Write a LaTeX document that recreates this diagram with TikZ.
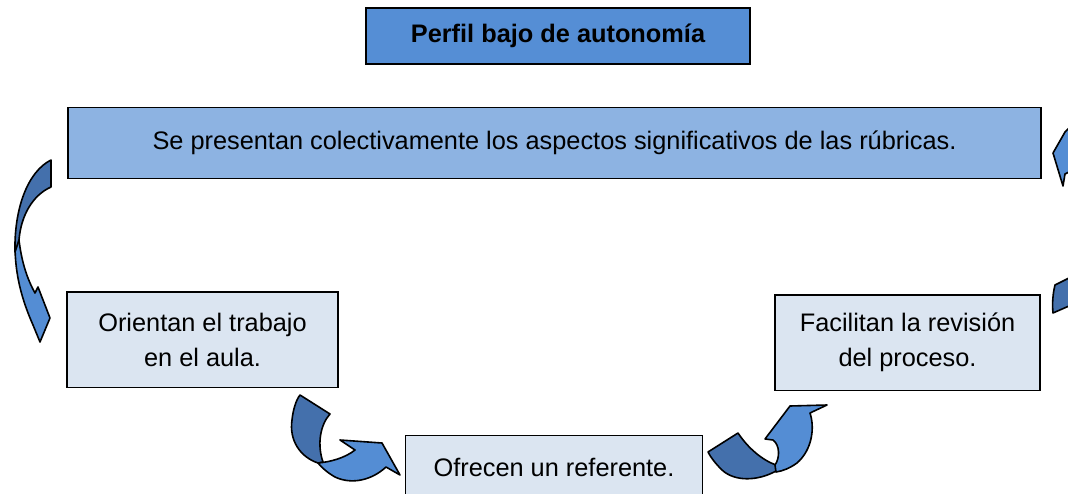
\documentclass[tikz,border=0pt]{standalone}
\usepackage{fontspec}
\setmainfont{Liberation Sans}
\usepackage{xcolor}
\usepackage{tikz}
\definecolor{headblue}{HTML}{558ED5}
\definecolor{barblue}{HTML}{8DB3E2}
\definecolor{cardblue}{HTML}{DBE5F1}
\definecolor{folddark}{HTML}{4470AC}
\definecolor{foldlight}{HTML}{548DD4}
\newcommand{\boxfont}{\fontsize{19}{26.2}\selectfont}
\tikzstyle{headbox} = [rectangle, draw, fill=headblue, line width=1.1pt,
    font=\boxfont\bfseries, align=center, minimum width=288pt, minimum height=42pt, inner sep=0pt]
\tikzstyle{bar} = [rectangle, draw, fill=barblue, line width=1.1pt,
    font=\boxfont, align=center, minimum width=729.75pt, minimum height=53.25pt, inner sep=0pt]
\tikzstyle{card} = [rectangle, draw, fill=cardblue, line width=1.1pt,
    font=\boxfont, align=center, minimum height=71.5pt, inner sep=0pt]
\tikzstyle{backfold} = [draw, line width=1.2pt, line join=round, fill=folddark]
\tikzstyle{frontfold} = [draw, line width=1.2pt, line join=round, fill=foldlight]
\usetikzlibrary{positioning}

\begin{document}
\begin{tikzpicture}[x=0.75pt,y=-0.75pt]
    \useasboundingbox (0,0) rectangle (1068,493);
    \clip (0,0) rectangle (1068,493);

    \node[headbox] (profile) at (558,36) {Perfil bajo de autonomía};
    \node[bar, below=31.5pt of profile, xshift=-2.6pt] (shared) {Se presentan colectivamente los aspectos significativos de las rúbricas.};

    \node[card, minimum width=203.25pt, below right=84pt and -0.75pt of shared.south west] (guide) {Orientan el trabajo\\en el aula.};
    \node[card, minimum width=198.75pt, below left=86.25pt and 0.75pt of shared.south east] (review) {Facilitan la revisión\\del proceso.};
    \node[card, minimum width=222.75pt, minimum height=48pt, below right=35.25pt and 49.5pt of guide.south east] (refer) {Ofrecen un referente.};

    % left: banner down to first card
    \draw[frontfold] (18,230) .. controls (20,255) and (25,275) .. (35,293) -- (38,287) -- (50,318) -- (40,342)
        -- (33,325) .. controls (22,300) and (15,275) .. (15,245) -- cycle;
    \draw[backfold] (51,160) -- (51,187) .. controls (33,195) and (21,215) .. (19,240) -- (15,252)
        .. controls (14,210) and (27,172) .. (51,160) -- cycle;

    % bottom left: first card to bottom card
    \draw[backfold] (300,395) -- (330,414) .. controls (320,425) and (317,445) .. (323,462) -- (318,463)
        .. controls (300,457) and (289,440) .. (292,420) .. controls (293,410) and (296,400) .. (300,395) -- cycle;
    \draw[frontfold] (318,463) .. controls (330,462) and (345,458) .. (355,450) -- (340,440) -- (382,443) -- (400,475)
        -- (386,467) .. controls (372,480) and (352,485) .. (335,477) .. controls (328,473) and (322,468) .. (318,463) -- cycle;

    % bottom right: bottom card up to second card
    \draw[backfold] (708,452) -- (738,433) .. controls (748,448) and (762,460) .. (776,465) -- (776,471)
        .. controls (758,481) and (735,482) .. (722,470) .. controls (716,464) and (711,458) .. (708,452) -- cycle;
    \draw[frontfold] (775,465) .. controls (780,458) and (780,445) .. (773,440) -- (765,439) -- (790,406) -- (827,405)
        -- (810,413) .. controls (815,428) and (812,450) .. (797,463) .. controls (790,468) and (783,471) .. (776,472) -- cycle;

    % right edge, cut by the page
    \draw[frontfold] (1069,128) -- (1065,132) -- (1053,153) -- (1063,186) -- (1065,174) -- (1069,172) -- cycle;
    \draw[backfold] (1055,285) -- (1069,278) -- (1069,306) -- (1053,313) .. controls (1052,303) and (1053,293) .. (1055,285) -- cycle;
\end{tikzpicture}
\end{document}
